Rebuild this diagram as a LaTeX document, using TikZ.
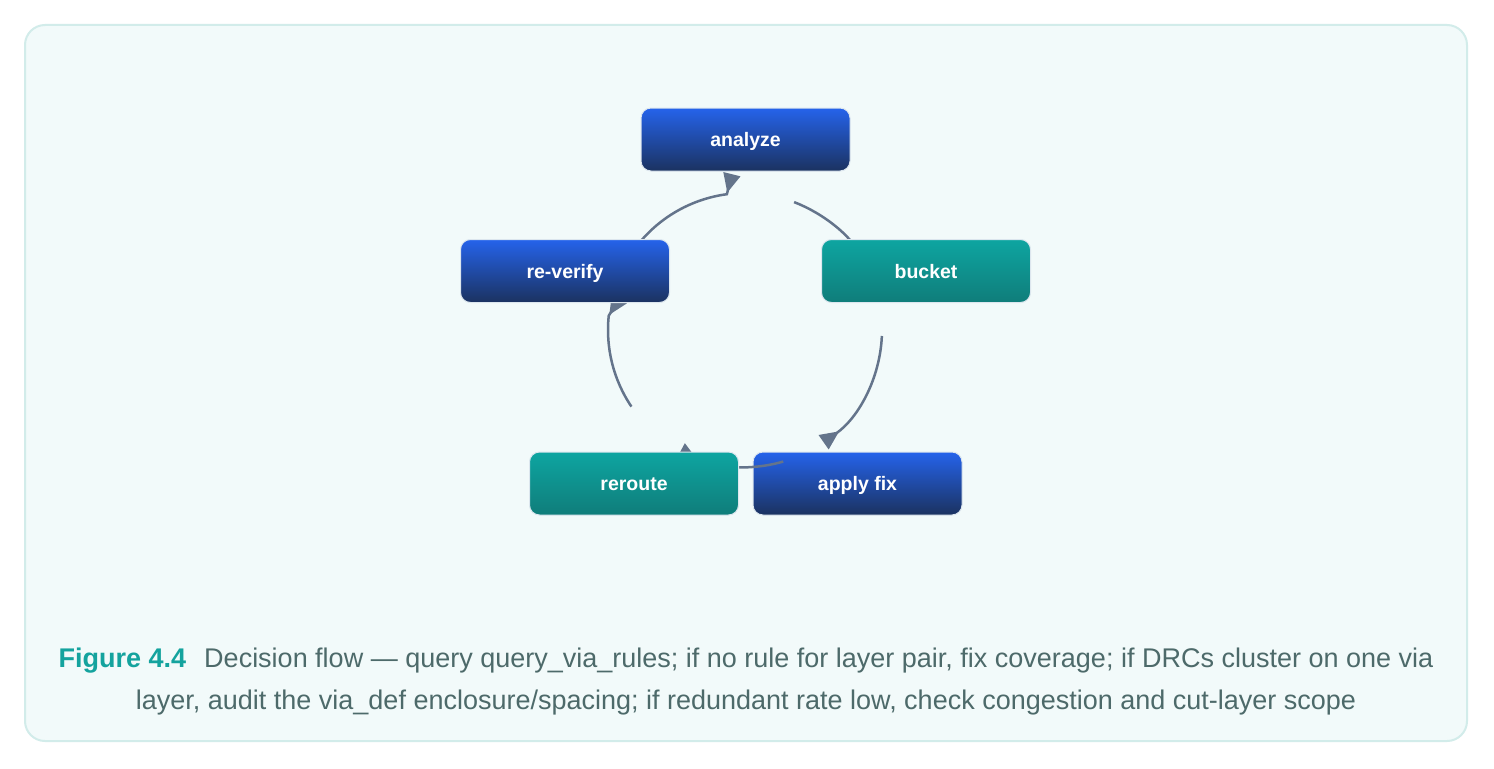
\documentclass[tikz,border=0pt]{standalone}
\usepackage{fontspec}
\setmainfont{Liberation Sans}
\usetikzlibrary{arrows.meta,calc}
\definecolor{panelfill}{HTML}{F2FAFA}
\definecolor{panelline}{HTML}{D2ECEA}
\definecolor{blueTop}{HTML}{2563EB}
\definecolor{blueBot}{HTML}{1B3260}
\definecolor{tealTop}{HTML}{0EA5A1}
\definecolor{tealBot}{HTML}{0F7D7A}
\definecolor{boxline}{HTML}{DCE6EE}
\definecolor{flowline}{HTML}{64748B}
\definecolor{figteal}{HTML}{14A39E}
\definecolor{captext}{HTML}{4D6A6A}
\tikzset{
  stepbox/.style={rounded corners=10bp, draw=boxline, line width=1bp,
    minimum width=209bp, minimum height=63bp, inner sep=0pt,
    text=white, font=\fontsize{19.5bp}{22bp}\selectfont\bfseries,
    text height=14bp, text depth=0pt},
  bluebox/.style={stepbox, top color=blueTop, bottom color=blueBot},
  tealbox/.style={stepbox, top color=tealTop, bottom color=tealBot},
  flow/.style={draw=flowline, line width=2.5bp,
    -{Triangle[reversed,length=19bp,width=17bp]}},
  capline/.style={anchor=base, inner sep=0pt, text=captext,
    font=\fontsize{27bp}{42bp}\selectfont}
}
\begin{document}
\begin{tikzpicture}[x=1bp,y=-1bp]
\useasboundingbox (0,0) rectangle (1494,768);
\fill[white] (0,0) rectangle (1494,768);
\draw[draw=panelline, fill=panelfill, line width=2bp, rounded corners=20bp]
  (25,25) rectangle (1467,741);

\coordinate (C) at (745,330);
\coordinate (s1) at ($(C)+(-69:137)$);
\coordinate (s2) at ($(C)+(2.5:137)$);
\coordinate (s3) at ($(C)+(73.8:137)$);
\coordinate (s4) at ($(C)+(146:137)$);
\coordinate (s5) at ($(C)+(219:137)$);

% connectors drawn beneath the boxes
\draw[flow] (s1) arc[start angle=-69, end angle=-30, radius=137];
\draw[flow] (s2) arc[start angle=2.5, end angle=55, radius=137];
\draw[flow] (s4) arc[start angle=146, end angle=186, radius=137] -- ++(10.6,-17);
\draw[flow] (s5) arc[start angle=219, end angle=262.4, radius=137] -- ++(5,-20);

\node[bluebox] (analyze) at (745.5,139.5) {analyze};
\node[tealbox] (bucket) at (926,271) {bucket};
\node[bluebox] (reverify) at (565,271) {re-verify};
\node[bluebox] (applyfix) at (857.5,483.5) {apply fix};

\draw[flow] (s3) arc[start angle=73.8, end angle=118, radius=137];

\node[tealbox] (reroute) at (634,483.5) {reroute};

\node[capline] (cap1) at (746,667) {\textcolor{figteal}{\bfseries Figure 4.4}\hspace{18bp}Decision flow — query query\_via\_rules; if no rule for layer pair, fix coverage; if DRCs cluster on one via};
\node[capline] (cap2) at (746,709) {layer, audit the via\_def enclosure/spacing; if redundant rate low, check congestion and cut-layer scope};
\end{tikzpicture}
\end{document}
